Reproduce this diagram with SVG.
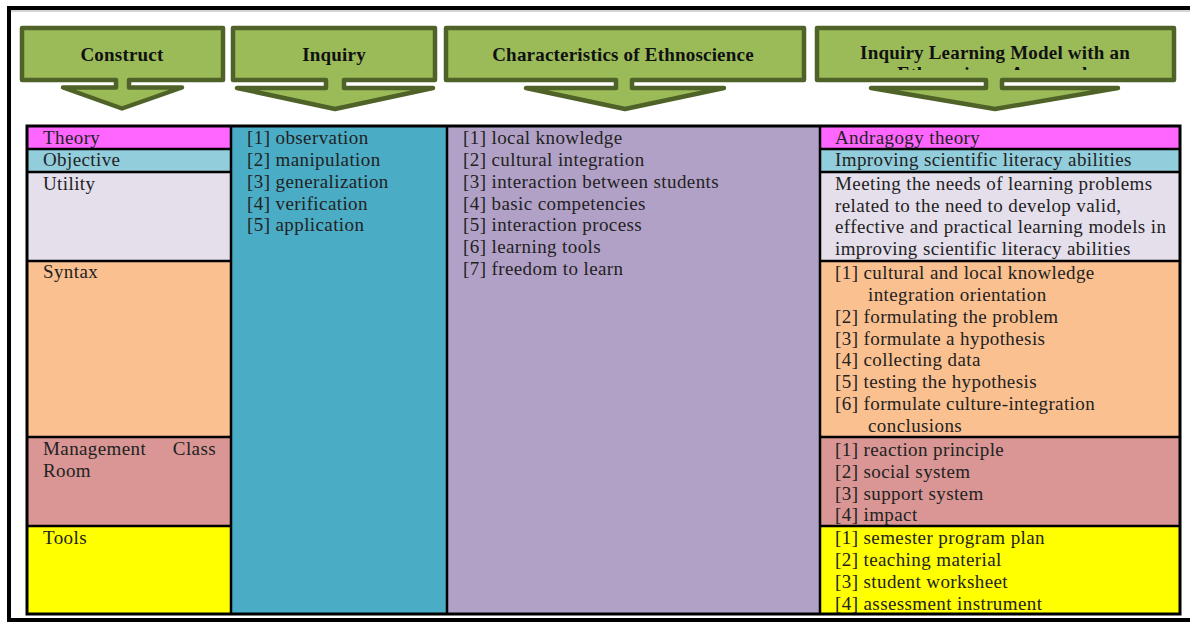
<svg xmlns="http://www.w3.org/2000/svg" width="1190" height="622" viewBox="0 0 1190 622">
<style>
.hdr{fill:#9bbb59;stroke:#4f6228;stroke-width:4.5;stroke-linejoin:round}
.ht{font-family:"Liberation Serif",serif;font-weight:bold;font-size:19px;letter-spacing:0.2px;fill:#111;text-anchor:middle}
.t{font-family:"Liberation Serif",serif;font-size:19px;letter-spacing:0.4px;fill:#222}
.ln{stroke:#000;stroke-width:2.5;fill:none}
</style>
<defs>
<clipPath id="clip4"><rect x="820" y="30" width="352" height="40"/></clipPath>
</defs>
<rect width="1190" height="622" fill="#fff"/>
<g id="frame">
<rect x="7" y="6" width="1183" height="4" fill="#000"/>
<rect x="7" y="10.5" width="1183" height="1" fill="#aaa"/>
<rect x="7" y="6" width="4" height="616" fill="#000"/>
<rect x="7" y="618" width="1183" height="4" fill="#000"/>
</g>
<g id="header-construct">
<path class="hdr" d="M22,28 H223 V80 H129 V87.5 H182 L122,108.5 L63,87.5 H116 V80 H22 Z"/>
<text class="ht" x="122" y="61">Construct</text>
</g>
<g id="header-inquiry">
<path class="hdr" d="M233,28 H435 V80 H344 V88 H433 L335,109 L237,88 H326 V80 H233 Z"/>
<text class="ht" x="334" y="61">Inquiry</text>
</g>
<g id="header-ethnoscience">
<path class="hdr" d="M446,28 H804 V80 H632 V88 H724 L625,109 L526,88 H616 V80 H446 Z"/>
<text class="ht" x="623" y="61">Characteristics of Ethnoscience</text>
</g>
<g id="header-model">
<path class="hdr" d="M817,28 H1174 V80 H1002 V88 H1118 L995,109 L871,88 H986 V80 H817 Z"/>
<g clip-path="url(#clip4)">
<text class="ht" x="995" y="59">Inquiry Learning Model with an</text>
<text class="ht" x="995" y="80">Ethnoscience Approach</text>
</g>
</g>
<g id="table">
<rect x="27" y="126" width="204" height="23" fill="#ff66ff"/>
<rect x="27" y="149" width="204" height="23" fill="#92cddc"/>
<rect x="27" y="172" width="204" height="89" fill="#e5dfec"/>
<rect x="27" y="261" width="204" height="176" fill="#fac090"/>
<rect x="27" y="437" width="204" height="89" fill="#d99694"/>
<rect x="27" y="526" width="204" height="88" fill="#ffff00"/>
<rect x="231" y="126" width="216" height="488" fill="#4bacc6"/>
<rect x="447" y="126" width="373" height="488" fill="#b2a1c7"/>
<rect x="820" y="126" width="360" height="23" fill="#ff66ff"/>
<rect x="820" y="149" width="360" height="23" fill="#92cddc"/>
<rect x="820" y="172" width="360" height="89" fill="#e5dfec"/>
<rect x="820" y="261" width="360" height="176" fill="#fac090"/>
<rect x="820" y="437" width="360" height="89" fill="#d99694"/>
<rect x="820" y="526" width="360" height="88" fill="#ffff00"/>
<path class="ln" d="M231,126 V614 M447,126 V614 M820,126 V614 M27,149 H231 M27,172 H231 M27,261 H231 M27,437 H231 M27,526 H231 M820,149 H1180 M820,172 H1180 M820,261 H1180 M820,437 H1180 M820,526 H1180"/>
<rect x="27" y="126" width="1153" height="488" fill="none" stroke="#000" stroke-width="3"/>
</g>
<g id="col-construct" class="t">
<text x="43" y="144">Theory</text>
<text x="43" y="166">Objective</text>
<text x="43" y="190">Utility</text>
<text x="43" y="278">Syntax</text>
<text x="43" y="455">Management</text>
<text x="216" y="455" text-anchor="end">Class</text>
<text x="43" y="477">Room</text>
<text x="43" y="544">Tools</text>
</g>
<g id="col-inquiry" class="t">
<text x="247" y="144">[1] observation</text>
<text x="247" y="166">[2] manipulation</text>
<text x="247" y="188">[3] generalization</text>
<text x="247" y="210">[4] verification</text>
<text x="247" y="231">[5] application</text>
</g>
<g id="col-ethnoscience" class="t">
<text x="463" y="144">[1] local knowledge</text>
<text x="463" y="166">[2] cultural integration</text>
<text x="463" y="188">[3] interaction between students</text>
<text x="463" y="210">[4] basic competencies</text>
<text x="463" y="231">[5] interaction process</text>
<text x="463" y="253">[6] learning tools</text>
<text x="463" y="275">[7] freedom to learn</text>
</g>
<g id="col-model" class="t">
<text x="835" y="144">Andragogy theory</text>
<text x="835" y="166">Improving scientific literacy abilities</text>
<text x="835" y="190">Meeting the needs of learning problems</text>
<text x="835" y="212">related to the need to develop valid,</text>
<text x="835" y="233">effective and practical learning models in</text>
<text x="835" y="255">improving scientific literacy abilities</text>
<text x="835" y="279">[1] cultural and local knowledge</text>
<text x="868" y="301">integration orientation</text>
<text x="835" y="323">[2] formulating the problem</text>
<text x="835" y="345">[3] formulate a hypothesis</text>
<text x="835" y="366">[4] collecting data</text>
<text x="835" y="388">[5] testing the hypothesis</text>
<text x="835" y="410">[6] formulate culture-integration</text>
<text x="868" y="432">conclusions</text>
<text x="835" y="456">[1] reaction principle</text>
<text x="835" y="478">[2] social system</text>
<text x="835" y="500">[3] support system</text>
<text x="835" y="521">[4] impact</text>
<text x="835" y="544">[1] semester program plan</text>
<text x="835" y="566">[2] teaching material</text>
<text x="835" y="588">[3] student worksheet</text>
<text x="835" y="610">[4] assessment instrument</text>
</g>
</svg>
